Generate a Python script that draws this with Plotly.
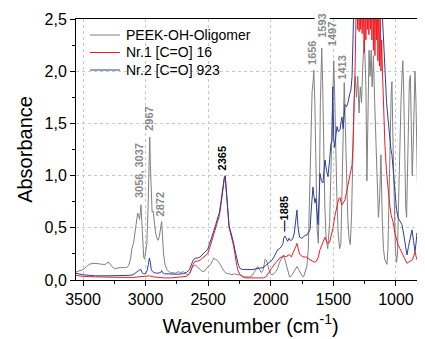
import plotly.graph_objects as go

# ---------------- data ----------------
peek_wn = [3560,3530,3500,3470,3450,3420,3400,3370,3350,3320,3300,3285,3270,3250,3220,3200,3170,3150,3135,3120,3110,3095,3080,3070,3063,3056,3048,3042,3037,3030,3022,3015,3008,3000,2990,2980,2972,2967,2962,2955,2948,2940,2930,2920,2910,2900,2890,2880,2872,2865,2857,2845,2830,2815,2800,2780,2760,2740,2720,2700,2680,2660,2645,2630,2615,2600,2585,2570,2555,2540,2525,2510,2495,2480,2465,2455,2445,2430,2415,2400,2385,2370,2350,2330,2310,2290,2270,2250,2230,2210,2190,2170,2150,2135,2120,2105,2090,2075,2060,2045,2035,2020,2005,1990,1975,1960,1945,1930,1915,1900,1888,1875,1862,1850,1835,1820,1805,1790,1778,1765,1750,1738,1725,1712,1700,1690,1680,1670,1662,1656,1648,1640,1630,1620,1612,1604,1598,1593,1586,1578,1568,1558,1545,1530,1518,1508,1500,1497,1490,1482,1472,1462,1450,1440,1430,1420,1413,1405,1395,1385,1375,1365,1355,1345,1335,1325,1315,1305,1295,1285,1275,1265,1255,1248,1240,1232,1224,1215,1207,1198,1190,1180,1170,1160,1150,1140,1130,1120,1110,1100,1090,1080,1072,1064,1055,1045,1038,1032,1025,1015,1005,995,988,980,970,960,952,945,938,930,922,915,907,900,893,885,877,870,862,855,848,840,832,825,815,805,795,785,775,765,755,745]
peek_abs = [0.075,0.085,0.10,0.13,0.15,0.16,0.16,0.155,0.15,0.15,0.17,0.16,0.13,0.11,0.115,0.12,0.12,0.12,0.14,0.2,0.3,0.36,0.5,0.6,0.64,0.62,0.58,0.65,0.72,0.55,0.32,0.22,0.2,0.25,0.35,0.7,1.2,1.37,1.1,0.75,0.65,0.66,0.55,0.45,0.4,0.38,0.42,0.5,0.56,0.42,0.25,0.15,0.1,0.08,0.07,0.07,0.065,0.08,0.07,0.08,0.06,0.05,0.07,0.11,0.14,0.14,0.12,0.1,0.09,0.08,0.09,0.12,0.13,0.15,0.19,0.21,0.2,0.19,0.17,0.14,0.11,0.08,0.06,0.06,0.05,0.06,0.05,0.05,0.04,0.03,0.03,0.03,0.04,0.07,0.09,0.13,0.1,0.07,0.1,0.2,0.19,0.11,0.06,0.05,0.06,0.08,0.11,0.17,0.21,0.24,0.2,0.14,0.06,0.03,0.04,0.07,0.11,0.13,0.1,0.07,0.04,0.03,0.09,0.13,0.3,0.8,1.4,1.8,1.9,2.01,1.7,1.2,0.5,0.35,0.8,1.7,2.0,2.22,1.9,1.3,0.7,0.4,0.3,0.55,1.2,1.8,2.05,2.1,1.8,1.3,0.8,0.45,0.3,0.35,0.9,1.6,1.89,1.5,1.0,0.6,0.4,0.34,0.6,1.2,1.7,1.95,1.75,1.95,1.6,1.85,1.7,2.05,2.3,2.15,1.85,0.95,1.75,2.2,1.95,2.2,1.85,2.15,1.7,1.3,0.9,0.6,0.8,1.2,0.6,0.3,0.2,0.16,0.15,0.3,0.7,1.4,1.8,1.9,1.4,0.7,0.3,0.17,0.25,0.7,1.3,1.7,1.95,2.1,1.8,1.2,0.7,0.6,1.1,1.5,1.9,1.96,1.5,1.0,1.3,1.8,2.0,1.7,1.1,0.7,0.45,0.35,0.4,0.5,0.55,0.5,0.45,0.5]

nr1_wn = [3560,3500,3400,3300,3200,3100,3050,3000,2967,2940,2900,2850,2800,2750,2700,2670,2650,2635,2620,2605,2585,2565,2545,2525,2505,2490,2470,2455,2440,2425,2410,2398,2388,2378,2370,2364,2358,2350,2342,2333,2322,2310,2298,2285,2272,2258,2245,2225,2200,2150,2100,2060,2040,2025,2010,1995,1980,1965,1950,1935,1920,1905,1890,1875,1862,1848,1835,1823,1810,1800,1791,1782,1770,1755,1740,1725,1711,1695,1680,1665,1650,1635,1620,1607,1595,1580,1567,1555,1543,1530,1518,1503,1490,1478,1470,1463,1455,1447,1438,1431,1420,1407,1395,1383,1365,1351,1343,1335,1327,1318,1312,1306,1300,1294,1288,1282,1276,1270,1264,1258,1252,1246,1240,1234,1228,1222,1216,1210,1204,1198,1192,1186,1180,1174,1168,1162,1156,1150,1144,1138,1132,1126,1120,1114,1108,1102,1095,1088,1076,1064,1050,1038,1024,1010,996,984,968,952,935,920,912,900,886,872,860,848,838,824,810,798,784,770,755,745]
nr1_abs = [0.045,0.035,0.03,0.025,0.025,0.025,0.03,0.03,0.04,0.03,0.025,0.02,0.02,0.025,0.03,0.035,0.06,0.11,0.15,0.18,0.18,0.19,0.21,0.23,0.25,0.3,0.38,0.44,0.5,0.56,0.62,0.72,0.82,0.93,0.98,0.99,0.88,0.74,0.62,0.5,0.45,0.4,0.33,0.24,0.14,0.08,0.05,0.03,0.02,0.02,0.02,0.02,0.03,0.05,0.08,0.11,0.14,0.16,0.18,0.2,0.22,0.22,0.23,0.22,0.24,0.24,0.22,0.26,0.29,0.32,0.35,0.3,0.25,0.23,0.22,0.22,0.22,0.2,0.19,0.18,0.17,0.18,0.22,0.29,0.33,0.38,0.41,0.37,0.35,0.36,0.42,0.5,0.6,0.68,0.7,0.75,0.78,0.79,0.74,0.72,0.74,0.77,0.84,0.91,1.0,1.1,1.29,1.6,2.0,2.6,2.8,2.4,2.8,2.38,2.9,2.4,2.8,2.36,2.9,2.4,2.18,2.8,2.3,2.9,2.4,2.8,2.35,2.9,2.4,2.8,2.3,2.9,2.2,2.8,2.15,2.8,2.3,2.9,2.1,2.7,2.05,2.6,2.0,2.3,2.0,1.75,1.5,1.29,1.05,0.88,0.72,0.62,0.56,0.46,0.38,0.34,0.3,0.26,0.22,0.18,0.16,0.17,0.18,0.19,0.22,0.27,0.22,0.17,0.18,0.22,0.27,0.24,0.22,0.25]

nr2_wn = [3560,3500,3450,3400,3300,3200,3130,3100,3080,3065,3056,3045,3037,3028,3015,3000,2988,2978,2970,2962,2955,2945,2930,2910,2890,2880,2872,2864,2850,2800,2750,2700,2670,2650,2635,2620,2605,2585,2565,2545,2525,2505,2490,2470,2455,2440,2425,2410,2398,2388,2378,2370,2364,2358,2350,2342,2333,2322,2310,2298,2285,2272,2258,2245,2225,2200,2150,2100,2060,2040,2020,2005,1990,1975,1960,1945,1930,1915,1903,1895,1885,1875,1865,1855,1845,1835,1823,1812,1800,1791,1782,1770,1755,1740,1725,1711,1698,1687,1675,1663,1655,1647,1640,1632,1622,1612,1607,1595,1583,1575,1567,1555,1543,1530,1520,1511,1505,1497,1490,1480,1471,1460,1447,1438,1431,1422,1414,1407,1395,1383,1370,1360,1351,1343,1335,1300,1200,1130,1115,1104,1090,1075,1060,1048,1040,1032,1020,1008,996,984,968,952,940,928,912,900,888,872,860,848,840,832,820,808,795,784,770,755,745]
nr2_abs = [0.065,0.05,0.045,0.04,0.04,0.04,0.045,0.05,0.07,0.09,0.09,0.1,0.1,0.07,0.06,0.06,0.09,0.15,0.21,0.17,0.1,0.08,0.07,0.065,0.065,0.07,0.09,0.07,0.06,0.055,0.055,0.06,0.075,0.1,0.15,0.19,0.21,0.21,0.22,0.25,0.27,0.29,0.34,0.41,0.47,0.53,0.59,0.65,0.75,0.85,0.95,0.99,1.0,0.9,0.76,0.64,0.52,0.47,0.42,0.36,0.28,0.2,0.14,0.11,0.1,0.1,0.1,0.11,0.12,0.14,0.16,0.18,0.19,0.22,0.25,0.29,0.3,0.32,0.35,0.41,0.42,0.39,0.37,0.4,0.38,0.38,0.4,0.45,0.55,0.67,0.5,0.41,0.4,0.41,0.43,0.43,0.46,0.48,0.7,0.89,0.8,0.74,0.78,0.65,0.53,0.85,1.02,0.95,0.93,1.05,1.15,1.05,0.99,1.15,1.3,1.34,1.85,1.35,1.27,1.38,1.47,1.42,1.44,1.52,1.56,1.45,1.6,1.68,1.66,1.7,1.78,1.82,1.94,2.3,2.7,2.8,2.8,2.8,2.7,2.45,2.0,1.7,1.5,1.31,1.25,1.2,1.0,0.81,0.68,0.6,0.56,0.53,0.45,0.36,0.24,0.32,0.4,0.48,0.38,0.27,0.35,0.45,0.4,0.36,0.45,0.53,0.5,0.45,0.48]

series_names = ["PEEK-OH-Oligomer", "Nr.1 [C=O] 16", "Nr.2 [C=O] 923"]

peak_labels = ["3056, 3037", "2967", "2872", "2365", "\u20141885", "1656", "1593", "1497", "1413"]
peak_label_wn = [3053, 2973, 2885, 2382, 1895, 1671, 1591, 1511, 1431]
peak_label_abs = [0.77, 1.41, 0.59, 1.03, 0.45, 2.04, 2.30, 2.22, 1.90]

x_tickvals = [3500, 3000, 2500, 2000, 1500, 1000]
x_ticktext = ["3500", "3000", "2500", "2000", "1500", "1000"]
y_tickvals = [0.0, 0.5, 1.0, 1.5, 2.0, 2.5]
y_ticktext = ["0,0", "0,5", "1,0", "1,5", "2,0", "2,5"]

# ---------------- figure ----------------
FONT = "Liberation Sans, Arial, sans-serif"
colors = ["#808080", "#ee1c24", "#2b3e9e"]

# the page body has an 8px margin, so the figure is drawn 8px in from the window edge
OFF = 8
W, H = 425 - OFF, 339 - OFF
ML, MR, MT, MB = 76 - OFF, 0, 19 - OFF, 59
PW, PH = W - ML - MR, H - MT - MB


def px_x(px):  # window pixel -> paper x
    return (px - OFF - ML) / PW


def px_y(py):  # window pixel -> paper y
    return (H - MB - (py - OFF)) / PH


fig = go.Figure()
for wn, ab, name, c in zip([peek_wn, nr1_wn, nr2_wn], [peek_abs, nr1_abs, nr2_abs], series_names, colors):
    fig.add_trace(go.Scatter(x=wn, y=ab, mode="lines", name=name, showlegend=False,
                             line=dict(color=c, width=1)))

label_colors = ["#8a8a8a", "#8a8a8a", "#8a8a8a", "#000000", "#000000",
                "#8a8a8a", "#8a8a8a", "#8a8a8a", "#8a8a8a"]
for txt, xv, yv, lc in zip(peak_labels, peak_label_wn, peak_label_abs, label_colors):
    fig.add_annotation(x=xv, y=yv, xref="x", yref="y", text="<b>" + txt + "</b>",
                       textangle=-90, showarrow=False, xanchor="center", yanchor="bottom",
                       font=dict(family=FONT, size=11, color=lc),
                       bgcolor="white" if txt == "1593" else None,
                       borderpad=1)

# manual legend (line samples + labels)
legend_rows_py = [35, 52.5, 70]
for name, c, py in zip(series_names, colors, legend_rows_py):
    fig.add_shape(type="line", xref="paper", yref="paper",
                  x0=px_x(90), x1=px_x(120), y0=px_y(py), y1=px_y(py),
                  line=dict(color=c, width=1))
    fig.add_annotation(xref="paper", yref="paper", x=px_x(124), y=px_y(py),
                       xanchor="left", yanchor="middle", showarrow=False,
                       text=name, font=dict(family=FONT, size=14, color="black"))

fig.update_layout(
    width=W, height=H, autosize=False,
    margin=dict(l=ML, r=MR, t=MT, b=MB, autoexpand=False),
    paper_bgcolor="white", plot_bgcolor="white",
    font=dict(family=FONT, size=16, color="black"),
    showlegend=False,
)
fig.update_xaxes(
    range=[3556, 768], autorange=False, automargin=False,
    tickmode="array", tickvals=x_tickvals, ticktext=x_ticktext,
    ticks="outside", ticklen=5, tickwidth=1, tickcolor="black",
    minor=dict(dtick=250, ticks="outside", ticklen=3, tickcolor="black", showgrid=False),
    showline=True, linecolor="black", linewidth=1, mirror=True,
    showgrid=True, gridcolor="#c8c8c8", griddash="dot", gridwidth=1,
    zeroline=False,
    tickfont=dict(family=FONT, size=16),
    title=dict(text="Wavenumber (cm<sup>-1</sup>)", font=dict(family=FONT, size=20), standoff=11),
)
fig.update_yaxes(
    range=[0, 2.5], autorange=False, automargin=False,
    tickmode="array", tickvals=y_tickvals, ticktext=y_ticktext,
    ticks="outside", ticklen=5, tickwidth=1, tickcolor="black",
    minor=dict(dtick=0.25, ticks="outside", ticklen=3, tickcolor="black", showgrid=False),
    showline=True, linecolor="black", linewidth=1, mirror=False,
    showgrid=True, gridcolor="#c8c8c8", griddash="dot", gridwidth=1,
    zeroline=False,
    tickfont=dict(family=FONT, size=16),
    title=dict(text="Absorbance", font=dict(family=FONT, size=20), standoff=6),
)

fig.write_html("out.html")
